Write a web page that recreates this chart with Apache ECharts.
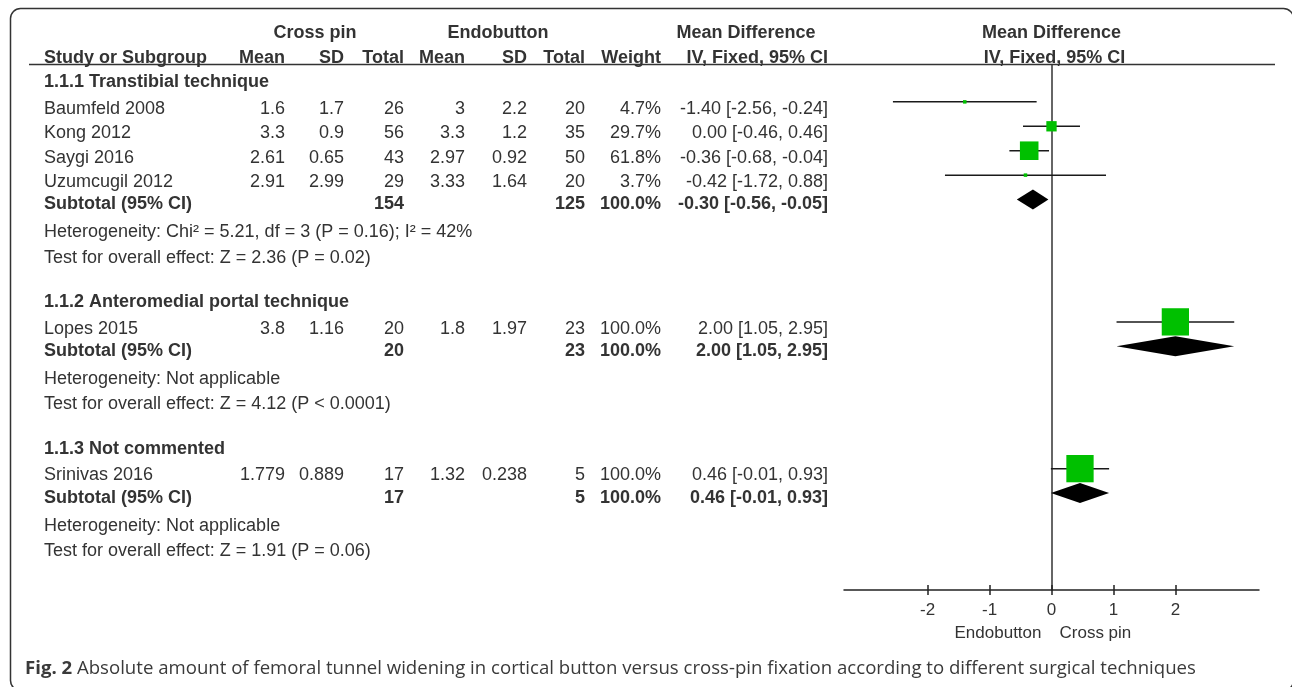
<!DOCTYPE html>
<html><head><meta charset="utf-8">
<script src="https://cdn.jsdelivr.net/npm/echarts@6/dist/echarts.min.js"></script>
<style>html,body{margin:0;padding:0;background:#fff}#c{width:1292px;height:687px}</style>
</head><body><div id="c"></div>
<script>
// ---------- DATA ----------
const groupNames = ['1.1.1 Transtibial technique', '1.1.2 Anteromedial portal technique', '1.1.3 Not commented'];
const studies   = ['Baumfeld 2008', 'Kong 2012', 'Saygi 2016', 'Uzumcugil 2012', 'Lopes 2015', 'Srinivas 2016'];
const studyGroup = [0, 0, 0, 0, 1, 2];
const crossMean = [1.6, 3.3, 2.61, 2.91, 3.8, 1.779];
const crossSD   = [1.7, 0.9, 0.65, 2.99, 1.16, 0.889];
const crossN    = [26, 56, 43, 29, 20, 17];
const endoMean  = [3, 3.3, 2.97, 3.33, 1.8, 1.32];
const endoSD    = [2.2, 1.2, 0.92, 1.64, 1.97, 0.238];
const endoN     = [20, 35, 50, 20, 23, 5];
const weights   = [4.7, 29.7, 61.8, 3.7, 100.0, 100.0];
const md        = [-1.40, 0.00, -0.36, -0.42, 2.00, 0.46];
const ciLow     = [-2.56, -0.46, -0.68, -1.72, 1.05, -0.01];
const ciHigh    = [-0.24, 0.46, -0.04, 0.88, 2.95, 0.93];
const subCrossN = [154, 20, 17];
const subEndoN  = [125, 23, 5];
const subWeight = [100.0, 100.0, 100.0];
const subMD     = [-0.30, 2.00, 0.46];
const subLow    = [-0.56, 1.05, -0.01];
const subHigh   = [-0.05, 2.95, 0.93];
const heterogeneity = ['Heterogeneity: Chi\u00b2 = 5.21, df = 3 (P = 0.16); I\u00b2 = 42%', 'Heterogeneity: Not applicable', 'Heterogeneity: Not applicable'];
const overallEffect = ['Test for overall effect: Z = 2.36 (P = 0.02)', 'Test for overall effect: Z = 4.12 (P < 0.0001)', 'Test for overall effect: Z = 1.91 (P = 0.06)'];
const xTicks = [-2, -1, 0, 1, 2];
const favoursLeft = 'Endobutton';
const favoursRight = 'Cross pin';
const caption = 'Absolute amount of femoral tunnel widening in cortical button versus cross-pin fixation according to different surgical techniques';

// ---------- LAYOUT ----------
const FONT = "'Liberation Sans', Arial, Helvetica, sans-serif";
const TXT = '#333';
const rows = []; // {pos, type, idx}
let pos = 0.70;
groupNames.forEach((g, gi) => {
  rows.push({pos, type: 'group', idx: gi});
  pos += 1.09;
  const members = studies.map((s, i) => i).filter(i => studyGroup[i] === gi);
  members.forEach((i, k) => {
    if (k > 0) pos += 1.0;
    rows.push({pos, type: 'study', idx: i});
  });
  pos += 0.92; rows.push({pos, type: 'subtotal', idx: gi});
  pos += 1.15; rows.push({pos, type: 'het', idx: gi});
  pos += 1.03; rows.push({pos, type: 'test', idx: gi});
  pos += 1.82;
});

const fmtCI = (m, l, h) => m.toFixed(2) + ' [' + l.toFixed(2) + ', ' + h.toFixed(2) + ']';

const studyData = rows.filter(r => r.type === 'study').map(r => {
  const i = r.idx; return [md[i], ciLow[i], ciHigh[i], r.pos - 0.28, weights[i]];
});
const subData = rows.filter(r => r.type === 'subtotal').map(r => {
  const g = r.idx; return [subMD[g], subLow[g], subHigh[g], r.pos - 0.2];
});

const chart = echarts.init(document.getElementById('c'));
chart.setOption({
  animation: false,
  backgroundColor: '#fff',
  grid: {left: 844, right: 33, top: 65, bottom: 97},
  xAxis: [{
    type: 'value', min: -3.35, max: 3.35, position: 'bottom',
    axisLine: {onZero: false, lineStyle: {color: '#222', width: 1.5}},
    axisTick: {show: true, customValues: xTicks, length: 5, lineStyle: {color: '#222', width: 1.5}},
    axisLabel: {customValues: xTicks, margin: 12, fontSize: 17, color: TXT, fontFamily: FONT},
    splitLine: {show: false}
  }, {
    type: 'value', min: -3.35, max: 3.35, position: 'bottom',
    axisLine: {show: false, onZero: false},
    axisTick: {show: true, inside: true, customValues: xTicks, length: 5, lineStyle: {color: '#222', width: 1.5}},
    axisLabel: {show: false}, splitLine: {show: false}
  }],
  yAxis: {
    type: 'value', inverse: true, min: 0, max: 21.5,
    axisLine: {show: true, onZero: true, lineStyle: {color: '#333', width: 1.5}},
    axisTick: {show: false}, axisLabel: {show: false}, splitLine: {show: false}
  },
  series: [{
    type: 'custom', xAxisIndex: 0, data: subData, encode: {x: [0, 1, 2], y: 3},
    renderItem(params, api) {
      const y = api.value(3);
      const a = api.coord([api.value(1), y]);
      const b = api.coord([api.value(2), y]);
      const c = api.coord([api.value(0), y]);
      const h = 10;
      return {type: 'polygon', shape: {points: [[a[0], a[1]], [c[0], c[1] - h], [b[0], b[1]], [c[0], c[1] + h]]}, style: {fill: '#000'}};
    }
  }, {
    type: 'custom', xAxisIndex: 0, data: studyData, encode: {x: [0, 1, 2], y: 3},
    renderItem(params, api) {
      const y = api.value(3);
      const a = api.coord([api.value(1), y]);
      const b = api.coord([api.value(2), y]);
      const c = api.coord([api.value(0), y]);
      const s = Math.max(3.5, 27.3 * Math.pow(api.value(4) / 100, 0.8));
      return {type: 'group', children: [
        {type: 'line', shape: {x1: a[0], y1: a[1], x2: b[0], y2: b[1]}, style: {stroke: '#1a1a1a', lineWidth: 1.5}},
        {type: 'rect', shape: {x: c[0] - s / 2, y: c[1] - s / 2, width: s, height: s}, style: {fill: '#00c000'}}
      ]};
    }
  }]
});

// ---------- TABLE TEXT ----------
const py = u => chart.convertToPixel({yAxisIndex: 0}, u);
const px = v => chart.convertToPixel({xAxisIndex: 0}, v);
const g = [];
function t(text, x, y, align, bold, size) {
  g.push({type: 'text', x, y, silent: true, style: {text: String(text), fill: TXT, font: (bold ? 'bold ' : '') + (size || 18) + 'px ' + FONT, textAlign: align || 'left', textVerticalAlign: 'middle'}});
}
const C = {name: 44, cm: 285, csd: 344, cn: 404, em: 465, esd: 527, en: 585, w: 661, ci: 828};
const yH1 = py(-1.31), yH2 = py(-0.29);
t('Cross pin', 315, yH1, 'center', true);
t('Endobutton', 498, yH1, 'center', true);
t('Mean Difference', 746, yH1, 'center', true);
t('Mean Difference', px(0), yH1, 'center', true);
t('Study or Subgroup', C.name, yH2, 'left', true);
t('Mean', C.cm, yH2, 'right', true);
t('SD', C.csd, yH2, 'right', true);
t('Total', C.cn, yH2, 'right', true);
t('Mean', C.em, yH2, 'right', true);
t('SD', C.esd, yH2, 'right', true);
t('Total', C.en, yH2, 'right', true);
t('Weight', C.w, yH2, 'right', true);
t('IV, Fixed, 95% CI', C.ci, yH2, 'right', true);
t('IV, Fixed, 95% CI', px(0) + 3, yH2, 'center', true);

rows.forEach(r => {
  const y = py(r.pos), i = r.idx;
  if (r.type === 'group') t(groupNames[i], C.name, y, 'left', true);
  else if (r.type === 'study') {
    t(studies[i], C.name, y);
    t(crossMean[i], C.cm, y, 'right');
    t(crossSD[i], C.csd, y, 'right');
    t(crossN[i], C.cn, y, 'right');
    t(endoMean[i], C.em, y, 'right');
    t(endoSD[i], C.esd, y, 'right');
    t(endoN[i], C.en, y, 'right');
    t(weights[i].toFixed(1) + '%', C.w, y, 'right');
    t(fmtCI(md[i], ciLow[i], ciHigh[i]), C.ci, y, 'right');
  } else if (r.type === 'subtotal') {
    t('Subtotal (95% CI)', C.name, y, 'left', true);
    t(subCrossN[i], C.cn, y, 'right', true);
    t(subEndoN[i], C.en, y, 'right', true);
    t(subWeight[i].toFixed(1) + '%', C.w, y, 'right', true);
    t(fmtCI(subMD[i], subLow[i], subHigh[i]), C.ci, y, 'right', true);
  } else if (r.type === 'het') t(heterogeneity[i], C.name, y);
  else if (r.type === 'test') t(overallEffect[i], C.name, y);
});

const zx = px(0);
t(favoursLeft, zx - 10, 633, 'right', false, 17);
t(favoursRight, zx + 8, 633, 'left', false, 17);

// header rule
g.push({type: 'line', silent: true, shape: {x1: 29, y1: 64.5, x2: 1275, y2: 64.5}, style: {stroke: '#333', lineWidth: 1.5}});
// frame
g.push({type: 'rect', silent: true, shape: {x: 10.5, y: 8.5, width: 1283, height: 682, r: 10}, style: {fill: null, stroke: '#333', lineWidth: 1.5}});
// caption
g.push({type: 'text', x: 25, y: 669, silent: true, style: {
  text: '{b|Fig. 2} ' + caption, textVerticalAlign: 'middle',
  font: "18.6px 'Open Sans', sans-serif", fill: '#3a3a3a',
  rich: {b: {font: "bold 18.6px 'Open Sans', sans-serif", fill: '#3a3a3a'}}
}});

chart.setOption({graphic: {elements: g}});
</script>
</body></html>
